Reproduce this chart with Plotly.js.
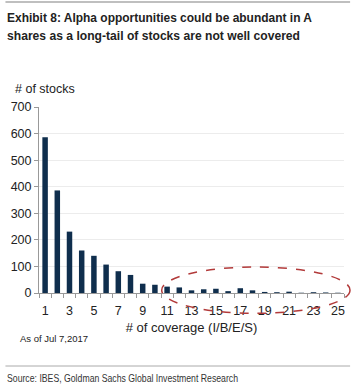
<!DOCTYPE html>
<html><head><meta charset="utf-8">
<script src="https://cdn.plot.ly/plotly-3.0.1.min.js"></script>
<style>html,body{margin:0;padding:0;background:#fff}#c{width:361px;height:387px}</style>
</head><body><div id="c"></div>
<script>
const coverage = [1,2,3,4,5,6,7,8,9,10,11,12,13,14,15,16,17,18,19,20,21,22,23,24,25];
const stocks = [586,386,231,160,140,107,82,68,35,31,24,21,10,14,16,7,18,10,4,3,5,1,3,2,1];
const xTickVals = [1,3,5,7,9,11,13,15,17,19,21,23,25];
const yTickVals = [0,100,200,300,400,500,600,700];

const trace = {type:'bar', x:coverage, y:stocks, marker:{color:'#0f2e4d'}, width:0.45, hoverinfo:'none'};
const layout = {
  width:361, height:387,
  margin:{l:39, r:17, t:107, b:94},
  paper_bgcolor:'#fff', plot_bgcolor:'#fff',
  showlegend:false,
  font:{family:'Liberation Sans, Arial, sans-serif', color:'#222', size:12},
  xaxis:{range:[0.5,25.5], tickvals:xTickVals, ticks:'outside', ticklen:6, tickcolor:'rgba(0,0,0,0)',
    showgrid:false, zeroline:false, showline:true, linecolor:'#999', linewidth:1,
    tickfont:{size:12.5, color:'#222'},
    minor:{tick0:0.5, dtick:1, ticks:'outside', ticklen:4, tickcolor:'#999', showgrid:false},
    title:{text:'# of coverage (I/B/E/S)', font:{size:13, color:'#222'}, standoff:5}},
  yaxis:{range:[0,700], tickvals:yTickVals, ticks:'outside', ticklen:4, tickcolor:'#999',
    showgrid:true, gridcolor:'#ececec', zeroline:false, showline:true, linecolor:'#999',
    tickfont:{size:12.5, color:'#222'}},
  shapes:[
    {type:'line', xref:'paper', yref:'paper', x0:-0.11, x1:1.02, y0:1+(105/186), y1:1+(105/186), line:{color:'#aaa', width:1.5}},
    {type:'line', xref:'paper', yref:'paper', x0:-0.11, x1:1.02, y0:-(73/186), y1:-(73/186), line:{color:'#aaa', width:1}},
    {type:'circle', xref:'paper', yref:'paper', x0:(161.7-39)/305, x1:(350-39)/305, y0:-(20.3/186), y1:(26/186), line:{color:'#b23a3a', width:1.5, dash:'dash'}}
  ],
  annotations:[
    {xref:'paper', yref:'paper', x:-0.11, y:1+(80/186), xanchor:'left', yanchor:'middle', showarrow:false, align:'left',
     text:'Exhibit 8: Alpha opportunities could be abundant in A<br>shares as a long-tail of stocks are not well covered',
     font:{family:'Liberation Sans, Arial, sans-serif', size:13.5, weight:'bold', color:'#222'}},
    {xref:'paper', yref:'paper', x:-0.085, y:1+(18/186), xanchor:'left', yanchor:'middle', showarrow:false,
     text:'# of stocks', font:{size:12.5, color:'#222'}},
    {xref:'paper', yref:'paper', x:-0.07, y:-(45/186), xanchor:'left', yanchor:'middle', showarrow:false,
     text:'As of Jul 7,2017', font:{size:9.5, color:'#222'}},
    {xref:'paper', yref:'paper', x:-0.11, y:-(85/186), xanchor:'left', yanchor:'middle', showarrow:false, align:'left',
     text:'Source: IBES, Goldman Sachs Global Investment Research', font:{size:10.5, color:'#333'}}
  ]
};
Plotly.newPlot('c', [trace], layout, {staticPlot:true, displayModeBar:false}).then(gd => {
  // condense the narrow-font texts to the widths they have in the reference
  const targets = {
    'Exhibit 8: Alpha opportunities could be abundant in A': 305,
    'shares as a long-tail of stocks are not well covered': 293,
    'Source: IBES, Goldman Sachs Global Investment Research': 231
  };
  gd.querySelectorAll('.annotation-text').forEach(t => {
    const lines = t.querySelectorAll('tspan.line');
    const items = lines.length ? Array.from(lines) : [t];
    items.forEach(el => {
      const w = targets[el.textContent];
      if (w) { el.setAttribute('textLength', w); el.setAttribute('lengthAdjust', 'spacingAndGlyphs'); }
    });
  });
});
</script></body></html>
